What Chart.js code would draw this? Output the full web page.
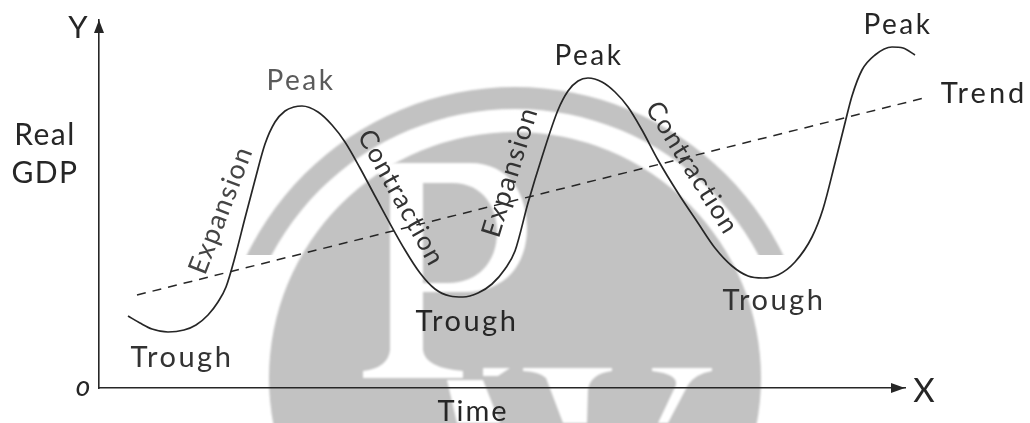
<!DOCTYPE html>
<html>
<head>
<meta charset="utf-8">
<style>html,body{margin:0;padding:0;background:#fff}canvas{display:block}</style>
<script src="https://cdn.jsdelivr.net/npm/chart.js@4/dist/chart.umd.min.js"></script>
</head>
<body>
<canvas id="c" width="1030" height="423"></canvas>
<script>
const timeValues = [29,41,53,69,85,97,109,119,127,136,146,156,166,176,186,195,203,219,233,246,261,276,306,321,336,351,364,379,393,406,416,429,443,459,469,479,489,503,516,529,543,559,579,599,616,633,649,664,679,696,713,724,736,746,753,763,776,793,804,816];
const gdpValues = [72,65,59,56,58,63,73,86,101,131,170,208,244,266,277,281,282,276,263,246,220,192,138,115,99,92,91,95,104,119,137,185,231,278,297,307,310,306,296,281,258,228,195,165,140,122,112,110,113,126,151,179,225,265,292,318,333,341,340,333];
const trendTime = [38,829];
const trendValues = [93,291];
const zip = (xs, ys) => xs.map((x, i) => ({x, y: ys[i]}));

const FONT = '"Lato", sans-serif';
const INK = '#262626';
const labels = [
  {t:'Y',x:78,y:38,s:31,sp:0},
  {t:'X',x:924,y:402,s:33,sp:0},
  {t:'Real',x:45,y:145,s:30,sp:1.5},
  {t:'GDP',x:45,y:183,s:30,sp:1.5},
  {t:'Time',x:473,y:421,s:29,sp:2},
  {t:'Peak',x:301,y:90,s:28,sp:2.5,c:'#5a5a5a'},
  {t:'Peak',x:589,y:65,s:28,sp:2.5},
  {t:'Peak',x:898,y:34,s:28,sp:2.5},
  {t:'Trend',x:984,y:103,s:29,sp:3},
  {t:'Trough',x:182,y:367,s:29,sp:2.5,c:'#333'},
  {t:'Trough',x:467,y:331,s:29,sp:2.5},
  {t:'Trough',x:774,y:310,s:29,sp:2.5,c:'#333'},
  {t:'Expansion',x:221,y:210,s:27,sp:1.5,r:-69,c:'#444',mid:true},
  {t:'Contraction',x:401,y:198,s:26,sp:1.5,r:61,c:'#333',mid:true},
  {t:'Expansion',x:510,y:172,s:27,sp:1.5,r:-73,c:'#333',mid:true},
  {t:'Contraction',x:692,y:168,s:26,sp:1.5,r:58,c:'#333',mid:true}
];

const watermark = {
  id:'watermark',
  beforeDraw(chart){
    const c = chart.ctx;
    c.save();
    c.filter = 'blur(1px)';
    c.fillStyle = '#c2c2c2';
    c.save();
    c.beginPath(); c.rect(0,0,1030,255); c.clip();
    c.beginPath();
    c.arc(515,385,298,0,Math.PI*2);
    c.arc(515,385,276,0,Math.PI*2,true);
    c.fill();
    c.restore();
    c.beginPath(); c.arc(515,378,246,0,Math.PI*2); c.fill();
    c.fillStyle = '#fff';
    c.beginPath();
    c.moveTo(363,163); c.lineTo(470,163);
    c.bezierCurveTo(510,163,527,195,527,228);
    c.bezierCurveTo(527,265,505,292,465,292);
    c.lineTo(423,292); c.lineTo(423,350);
    c.quadraticCurveTo(425,368,463,371); c.lineTo(463,378); c.lineTo(363,378); c.lineTo(363,371);
    c.quadraticCurveTo(388,368,390,350);
    c.lineTo(390,190); c.quadraticCurveTo(388,172,363,169);
    c.closePath(); c.fill();
    c.fillStyle = '#c2c2c2';
    c.beginPath();
    c.moveTo(423,183); c.lineTo(452,183);
    c.bezierCurveTo(485,183,497,210,497,232);
    c.bezierCurveTo(497,262,478,283,448,283);
    c.lineTo(423,283); c.closePath(); c.fill();
    c.fillStyle = '#fff';
    c.beginPath();
    c.moveTo(447,380); c.lineTo(483,380); c.lineTo(500,423); c.lineTo(457,423); c.closePath(); c.fill();
    c.beginPath();
    c.moveTo(483,368); c.lineTo(510,368); c.lineTo(498,376); c.lineTo(483,376); c.closePath(); c.fill();
    c.beginPath();
    c.moveTo(523,368); c.lineTo(612,368); c.lineTo(612,371); c.quadraticCurveTo(590,374,588,390);
    c.lineTo(587,423); c.lineTo(563,423); c.lineTo(546,378); c.quadraticCurveTo(540,372,523,371); c.closePath(); c.fill();
    c.beginPath();
    c.moveTo(652,368); c.lineTo(712,368); c.lineTo(712,371); c.quadraticCurveTo(695,374,688,385);
    c.lineTo(668,423); c.lineTo(658,423); c.lineTo(676,385); c.quadraticCurveTo(678,374,652,371); c.closePath(); c.fill();
    c.restore();
  },
  afterDatasetsDraw(chart){
    const c = chart.ctx, a = chart.chartArea;
    c.save();
    c.fillStyle = INK;
    c.beginPath(); c.moveTo(a.left,a.top); c.lineTo(a.left+5,a.top+13); c.lineTo(a.left-5,a.top+13); c.closePath(); c.fill();
    c.beginPath(); c.moveTo(a.right,a.bottom); c.lineTo(a.right-14,a.bottom-5); c.lineTo(a.right-14,a.bottom+5); c.closePath(); c.fill();
    c.textAlign = 'center';
    c.font = 'italic 28px '+FONT;
    c.textBaseline = 'alphabetic';
    c.fillText('o',83,396);
    for (const l of labels){
      c.save();
      c.translate(l.x,l.y);
      if (l.r) c.rotate(l.r*Math.PI/180);
      c.font = l.s+'px '+FONT;
      c.letterSpacing = l.sp+'px';
      c.fillStyle = l.c || INK;
      c.textBaseline = l.mid ? 'middle' : 'alphabetic';
      c.fillText(l.t,0,0);
      c.restore();
    }
    c.restore();
  }
};

new Chart(document.getElementById('c'),{
  type:'scatter',
  data:{datasets:[
    {label:'Real GDP',data:zip(timeValues,gdpValues),showLine:true,borderColor:'#262626',borderWidth:1.7,pointRadius:0,cubicInterpolationMode:'monotone',clip:false},
    {label:'Trend',data:zip(trendTime,trendValues),showLine:true,borderColor:'#262626',borderWidth:1.5,borderDash:[9,7],pointRadius:0,clip:false}
  ]},
  options:{
    responsive:false,animation:false,
    layout:{padding:{left:99,right:125,top:20,bottom:35}},
    plugins:{legend:{display:false},tooltip:{enabled:false},title:{display:false}},
    scales:{
      x:{type:'linear',min:0,max:806,grid:{display:false,drawTicks:false},ticks:{display:false},border:{display:true,color:'#262626',width:1.6}},
      y:{type:'linear',min:0,max:368,grid:{display:false,drawTicks:false},ticks:{display:false},border:{display:true,color:'#262626',width:1.6}}
    }
  },
  plugins:[watermark]
});
</script>
</body>
</html>
